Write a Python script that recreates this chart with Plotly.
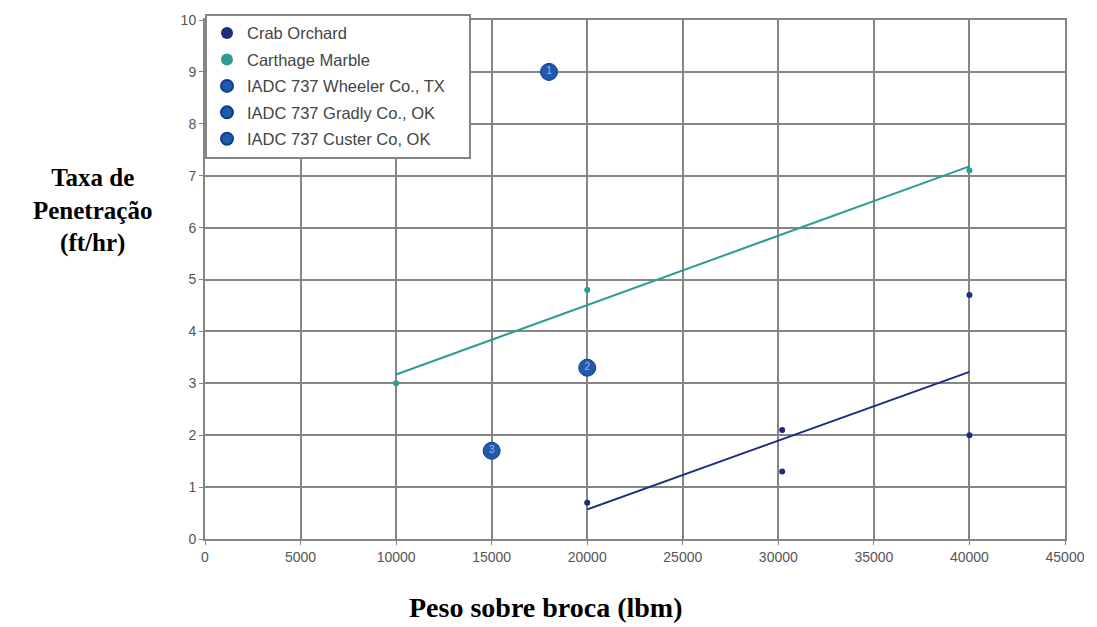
import plotly.graph_objects as go

# ---- data ----
crab_x = [20000, 30200, 30200, 40000, 40000]
crab_y = [0.7, 2.1, 1.3, 4.7, 2.0]
crab_trend_x = [20000, 40000]
crab_trend_y = [0.57, 3.22]

carth_x = [10000, 20000, 40000]
carth_y = [3.0, 4.8, 7.1]
carth_trend_x = [10000, 40000]
carth_trend_y = [3.17, 7.18]

iadc_names = ["IADC 737 Wheeler Co., TX", "IADC 737 Gradly Co., OK", "IADC 737 Custer Co, OK"]
iadc_x = [18000, 20000, 15000]
iadc_y = [9.0, 3.3, 1.7]
iadc_lbl = ["1", "2", "3"]

x_ticks = [0, 5000, 10000, 15000, 20000, 25000, 30000, 35000, 40000, 45000]
y_ticks = [0, 1, 2, 3, 4, 5, 6, 7, 8, 9, 10]

NAVY = "#1c2d80"
TEAL = "#2a9d95"
BLUE = "#1f5aae"
PAD = "\u00a0\u00a0\u00a0\u00a0"

fig = go.Figure()

fig.add_trace(go.Scatter(x=crab_trend_x, y=crab_trend_y, mode="lines",
                         line=dict(color=NAVY, width=2), showlegend=False, hoverinfo="skip"))
fig.add_trace(go.Scatter(x=carth_trend_x, y=carth_trend_y, mode="lines",
                         line=dict(color=TEAL, width=2), showlegend=False, hoverinfo="skip"))

fig.add_trace(go.Scatter(x=crab_x, y=crab_y, mode="markers", name="Crab Orchard",
                         marker=dict(color=NAVY, size=6, symbol="circle"),
                         legendgroup="a"))
fig.add_trace(go.Scatter(x=carth_x, y=carth_y, mode="markers", name="Carthage Marble",
                         marker=dict(color=TEAL, size=6, symbol="circle"),
                         legendgroup="b"))
for i in range(3):
    fig.add_trace(go.Scatter(x=[iadc_x[i]], y=[iadc_y[i]], mode="markers+text",
                             name=iadc_names[i] + (PAD if i == 0 else ""), text=[iadc_lbl[i]],
                             textposition="middle center",
                             textfont=dict(color="#9fb8e0", size=10, family="Liberation Sans"),
                             marker=dict(color=BLUE, size=17, symbol="circle",
                                         line=dict(color="#0e3f86", width=1)),
                             legendgroup="c%d" % i))

axis_common = dict(showgrid=True, gridcolor="#858585", gridwidth=2,
                   showline=True, linecolor="#858585", linewidth=2, mirror=True,
                   ticks="outside", ticklen=4, tickcolor="#858585", zeroline=False,
                   tickfont=dict(family="Liberation Sans", size=14, color="#555555"))

fig.update_xaxes(range=[0, 45000], tickvals=x_ticks, ticktext=[str(v) for v in x_ticks],
                 **axis_common)
fig.update_yaxes(range=[0, 10], tickvals=y_ticks, ticktext=[str(v) for v in y_ticks],
                 **axis_common)

fig.update_layout(
    width=1097, height=627,
    margin=dict(l=205, r=30, t=15, b=88),
    plot_bgcolor="white", paper_bgcolor="white",
    showlegend=True,
    legend=dict(x=0, y=1.012, xanchor="left", yanchor="top",
                bgcolor="white", bordercolor="#858585", borderwidth=2,
                font=dict(family="Liberation Sans", size=16.5, color="#444444"),
                traceorder="grouped", tracegroupgap=2, itemsizing="constant"),
    annotations=[
        dict(text="<b>Taxa de<br>Penetração<br>(ft/hr)</b>", xref="paper", yref="paper",
             x=-0.131, y=0.632, xanchor="center", yanchor="middle", showarrow=False,
             align="center",
             font=dict(family="Liberation Serif", size=25, color="#000000")),
        dict(text="<b>Peso sobre broca (lbm)</b>", xref="paper", yref="paper",
             x=0.396, y=-0.132, xanchor="center", yanchor="middle", showarrow=False,
             font=dict(family="Liberation Serif", size=28, color="#000000")),
    ],
)

fig.write_html("out.html")
